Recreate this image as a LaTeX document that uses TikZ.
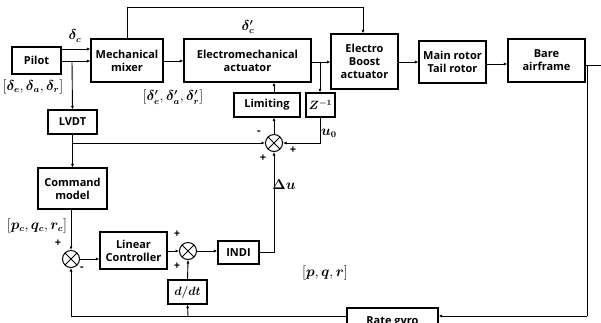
\documentclass[tikz,border=0pt]{standalone}
\usepackage{amsmath,bm}
\usepackage{fontspec}
\setmainfont{Open Sans}
\usetikzlibrary{arrows.meta,calc}
\begin{document}
\begin{tikzpicture}[x=1pt,y=-1pt,
  blk/.style={draw,line width=1.1pt,inner sep=0pt,align=center,font=\fontsize{11}{13}\selectfont\bfseries},
  sumj/.style={draw,line width=1pt,circle,minimum size=17pt,inner sep=0pt,path picture={
     \draw[line width=0.9pt] (path picture bounding box.north west)--(path picture bounding box.south east)
       (path picture bounding box.north east)--(path picture bounding box.south west);}},
  ar/.style={line width=0.9pt,-{Latex[length=3.5pt,width=3pt]}},
  ln/.style={line width=0.9pt},
  sg/.style={font=\fontsize{11}{11}\selectfont\bfseries,inner sep=0pt},
  ml/.style={font=\fontsize{13.5}{14}\selectfont,inner sep=0pt}]
\useasboundingbox (0,0) rectangle (601,322);
\node[blk,minimum width=49pt,minimum height=27pt] (pilot) at (36.5,60.5) {Pilot};
\node[blk,minimum width=72pt,minimum height=43pt] (mix) at (127,60.5) {Mechanical\\mixer};
\node[blk,minimum width=127pt,minimum height=43pt] (ema) at (247.5,60.5) {Electromechanical\\actuator};
\node[blk,minimum width=67pt,minimum height=55pt] (eb) at (364.5,61.5) {Electro\\Boost\\actuator};
\node[blk,minimum width=67pt,minimum height=42pt] (mr) at (452.5,62) {Main rotor\\Tail rotor};
\node[blk,minimum width=77pt,minimum height=43pt] (ba) at (546.5,60.5) {Bare\\airframe};
\node[blk,minimum width=66pt,minimum height=24pt] (lim) at (267,105) {Limiting};
\node[blk,minimum width=29pt,minimum height=24pt,font=\fontsize{12}{12}\selectfont] (z) at (320.5,105) {$\bm{Z^{-1}}$};
\node[blk,minimum width=49pt,minimum height=24pt] (lvdt) at (72.5,122) {LVDT};
\node[blk,minimum width=69pt,minimum height=41pt] (cmd) at (72.5,188.5) {Command\\model};
\node[blk,minimum width=67pt,minimum height=37pt] (lc) at (133.5,250.5) {Linear\\Controller};
\node[blk,minimum width=41pt,minimum height=23pt] (indi) at (238.5,252.5) {INDI};
\node[blk,minimum width=39pt,minimum height=24pt,font=\fontsize{12.5}{12}\selectfont] (ddt) at (187.5,292) {$\bm{d/dt}$};
\node[blk,minimum width=91pt,minimum height=28pt] (gyro) at (392.5,322) {Rate gyro};
\node[sumj] (s1) at (274,143) {};
\node[sumj] (s2) at (71,259) {};
\node[sumj] (s3) at (188,251) {};
% coordinates
\coordinate (pu) at (61,49);
\coordinate (pl) at (61,61);
\coordinate (jl) at (72,61);
\coordinate (jlv) at (72,143);
\coordinate (jz) at (320,62);
\coordinate (top1) at (127,7);
\coordinate (top2) at (363,7);
\coordinate (jr) at (587,65);
\coordinate (rend) at (605,65);
\coordinate (rb) at (587,316);
\coordinate (fbl) at (71,316);
\coordinate (jd) at (188,316);
% connectors
\draw[ar] (pu) -- (pu -| mix.west);
\draw[ar] (pl) -- (pl -| mix.west);
\draw[ar] (jl) -- (lvdt.north);
\draw[ar] (lvdt.south) -- (cmd.north);
\draw[ar] (jlv) -- (s1.west);
\draw[ar] (mix.east |- 0,61) -- (ema.west |- 0,61);
\draw[ar] (ema.east |- jz) -- (eb.west |- jz);
\draw[ar] (jz) -- (z.north -| jz);
\draw[ar] (z.south -| jz) |- (s1.east);
\draw[ar] (s1.north) -- (lim.south -| s1);
\draw[ar] (lim.north -| s1) -- (ema.south -| s1);
\draw[ar] (mix.north -| top1) -- (top1) -- (top2) -- (eb.north -| top2);
\draw[ar] (eb.east |- 0,62) -- (mr.west |- 0,62);
\draw[ar] (mr.east |- 0,64) -- (ba.west |- 0,64);
\draw[ln] (ba.east |- rend) -- (rend);
\draw[ln] (jr) -- (rb);
\draw[ar] (rb) -- (gyro.east |- rb);
\draw[ln] (gyro.west |- fbl) -- (fbl);
\draw[ar] (fbl) -- (s2.south);
\draw[ar] (jd) -- (ddt.south);
\draw[ar] (ddt.north) -- (s3.south);
\draw[ar] (cmd.south -| s2) -- (s2.north);
\draw[ar] (s2.east) -- (lc.west |- s2);
\draw[ar] (lc.east |- s3) -- (s3.west);
\draw[ar] (s3.east) -- (indi.west |- s3);
\draw[ar] (indi.east) -| (s1.south);
% labels
\node[ml] (lbdc) at (75,36) {$\bm{\delta_c}$};
\node[ml] (lbdcp) at (248,27) {$\bm{\delta'_c}$};
\node[ml] (lbpil) at (33,87) {$[\bm{\delta_e},\bm{\delta_a},\bm{\delta_r}]$};
\node[ml] (lbmix) at (173,97) {$[\bm{\delta'_e},\bm{\delta'_a},\bm{\delta'_r}]$};
\node[ml] (lbu0) at (329,133) {$\bm{u_0}$};
\node[ml] (lbdu) at (284,185) {$\bm{\Delta u}$};
\node[ml] (lbpc) at (37,226) {$[\bm{p_c},\bm{q_c},\bm{r_c}]$};
\node[ml] (lbpqr) at (325,273) {$[\bm{p},\bm{q},\bm{r}]$};
\node[sg] (m1) at (259,133) {-};
\node[sg] (p1a) at (293,150) {+};
\node[sg] (p1b) at (263,158) {+};
\node[sg] (p2) at (58,243) {+};
\node[sg] (m2) at (82,269) {-};
\node[sg] (p3a) at (177,234) {+};
\node[sg] (p3b) at (177,266) {+};
\end{tikzpicture}
\end{document}
